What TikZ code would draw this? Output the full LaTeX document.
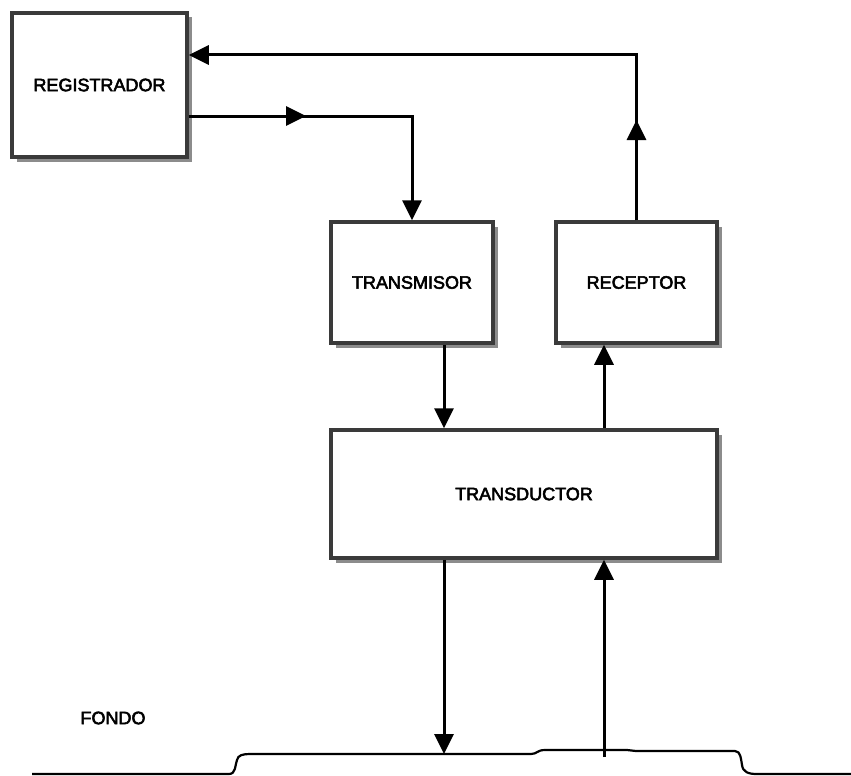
\documentclass[tikz,border=0pt]{standalone}
\usepackage{fontspec}
\setmainfont{Liberation Sans}
\newfontfamily\labelfont[FakeBold=3]{Liberation Sans}
\usetikzlibrary{arrows.meta,shadows}
\definecolor{boxline}{HTML}{3A3A3A}
\tikzset{>={Triangle[length=20pt,width=19pt]}}
\tikzset{
  box/.style={draw=boxline,line width=3.5pt,fill=white,
    font=\labelfont\fontsize{18}{21}\selectfont,
    drop shadow={shadow xshift=4.5pt,shadow yshift=-4.5pt,fill=black!45,opacity=1}},
  link/.style={line width=3pt}
}

\begin{document}
\begin{tikzpicture}[x=1pt,y=-1pt]
\useasboundingbox (0,0) rectangle (851,776);
% bloques
\node[box,minimum width=175pt,minimum height=144pt] (reg) at (99.5,85) {REGISTRADOR};
\node[box,minimum width=162pt,minimum height=121pt] (tx) at (412,282.5) {TRANSMISOR};
\node[box,minimum width=161pt,minimum height=121pt] (rx) at (636.5,282.5) {RECEPTOR};
\node[box,minimum width=386pt,minimum height=128pt] (td) at (524,494) {TRANSDUCTOR};
\node[font=\labelfont\fontsize{18}{21}\selectfont] (fondo) at (113,718) {FONDO};
% fondo del mar
\draw[line width=2.2pt] (32,774) -- (229,774)
  .. controls (236,774) and (235,765) .. (237,760)
  .. controls (238,755) and (243,754) .. (250,754) -- (531,754)
  .. controls (537,754) and (537,750) .. (545,750) -- (627,750)
  .. controls (631,750) and (632,751) .. (636,751) -- (735,751)
  .. controls (741,751) and (741,760) .. (742,765)
  .. controls (743,772) and (748,774) .. (757,774) -- (851,774);
\coordinate (out) at (306,116);
\coordinate (back) at (636.5,120);
\coordinate (hit) at (444,754);
\coordinate (echo) at (604,757);
% conexiones
\draw[link,->] (reg.east |- out) -| (tx.north);
\draw[link,->] (reg.east |- out) -- (out);
\draw[link,->] (tx.south -| hit) -- (td.north -| hit);
\draw[link,->] (hit |- td.south) -- (hit);
\draw[link,->] (echo) -- (td.south -| echo);
\draw[link,->] (td.north -| echo) -- (rx.south -| echo);
\draw[link,->] (rx.north) |- ([yshift=30pt]reg.east);
\draw[link,->] (rx.north) -- (back);
\end{tikzpicture}
\end{document}
